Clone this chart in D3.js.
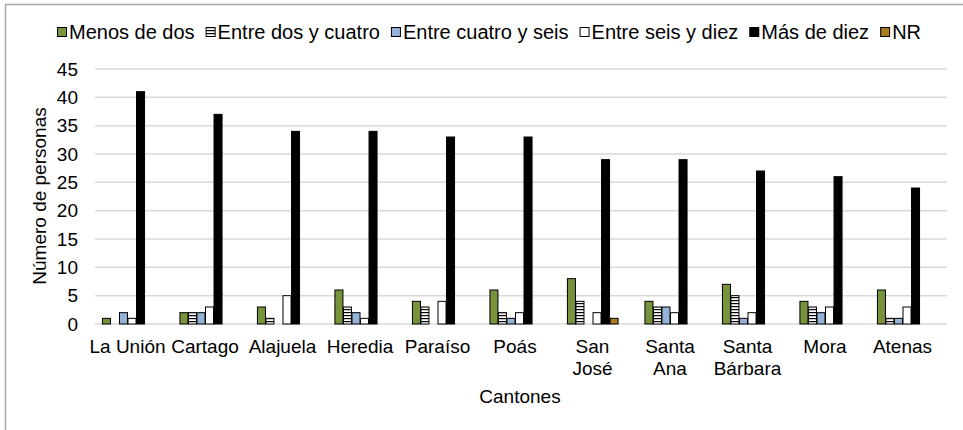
<!DOCTYPE html>
<html><head><meta charset="utf-8">
<script src="https://cdn.jsdelivr.net/npm/d3@7"></script>
<style>body{margin:0;background:#fff}svg{display:block}text{font-family:"Liberation Sans",Arial,sans-serif;fill:#000}</style>
</head><body><svg id="c" width="963" height="430"></svg>
<script>
const categories = [["La Unión"],["Cartago"],["Alajuela"],["Heredia"],["Paraíso"],["Poás"],["San","José"],["Santa","Ana"],["Santa","Bárbara"],["Mora"],["Atenas"]];
const seriesNames = ["Menos de dos","Entre dos y cuatro","Entre cuatro y seis","Entre seis y diez","Más de diez","NR"];
const menosDeDos      = [1,2,3,6,4,6,8,4,7,4,6];
const entreDosCuatro  = [0,2,1,3,3,2,4,3,5,3,1];
const entreCuatroSeis = [2,2,0,2,0,1,0,3,1,2,1];
const entreSeisDiez   = [1,3,5,1,4,2,2,2,2,3,3];
const masDeDiez       = [41,37,34,34,33,33,29,29,27,26,24];
const nr              = [0,0,0,0,0,0,1,0,0,0,0];
const yTicks = [0,5,10,15,20,25,30,35,40,45];
const yTitle = "Número de personas";
const xTitle = "Cantones";

const series = [menosDeDos,entreDosCuatro,entreCuatroSeis,entreSeisDiez,masDeDiez,nr];
const fills = ["#77933c","url(#stripes)","#95b3d7","#ffffff","#000000","#a67c1f"];
const FS = 19;

const svg = d3.select("#c");
const defs = svg.append("defs");
const pat = defs.append("pattern").attr("id","stripes").attr("patternUnits","userSpaceOnUse")
  .attr("width",6).attr("height",3);
pat.append("rect").attr("width",6).attr("height",3).attr("fill","#fff");
pat.append("rect").attr("y",0).attr("width",6).attr("height",1.2).attr("fill","#000");

// border
svg.append("path").attr("d","M5.5,430 V4.5 H963").attr("fill","none").attr("stroke","#a6a6a6").attr("stroke-width",1.5);

const x = d3.scaleBand().domain(d3.range(categories.length)).range([88.75,941.25]).paddingInner(0.34).paddingOuter(0.17);
const xs = d3.scaleBand().domain(d3.range(series.length)).range([0,x.bandwidth()]);
const y = d3.scaleLinear().domain([0,45]).range([324,69]);

// gridlines
svg.append("g").selectAll("line").data(yTicks).join("line")
  .attr("x1",95).attr("x2",947).attr("y1",d=>y(d)).attr("y2",d=>y(d))
  .attr("stroke","#d9d9d9").attr("stroke-width",1.5);

// y labels
const yAxis = d3.axisLeft(y).tickValues(yTicks).tickSize(0).tickPadding(0);
const gy = svg.append("g").attr("transform","translate(78,0)").call(yAxis);
gy.select(".domain").remove();
gy.selectAll("text").attr("font-size",FS).style("font-family","'Liberation Sans',Arial,sans-serif").attr("fill","#000");

// bars
const g = svg.append("g");
series.forEach((vals,si)=>{
  g.append("g").selectAll("rect").data(vals).join("rect")
    .attr("x",(d,i)=>x(i)+xs(si)+0.5)
    .attr("width",xs.bandwidth()-0.5)
    .attr("y",d=>y(d))
    .attr("height",d=>y(0)-y(d))
    .attr("fill",fills[si])
    .attr("stroke",d=>d>0?"#000":"none").attr("stroke-width",1);
});

// x labels
const gx = svg.append("g");
categories.forEach((lines,i)=>{
  const cx = x(i)+x.bandwidth()/2;
  const t = gx.append("text").attr("text-anchor","middle").attr("font-size",FS)
    .attr("x",cx).attr("y",353);
  lines.forEach((l,k)=>t.append("tspan").attr("x",cx).attr("dy",k===0?0:22).text(l));
});

svg.append("text").attr("text-anchor","middle").attr("font-size",FS)
  .attr("x",520).attr("y",403).text(xTitle);
svg.append("text").attr("text-anchor","middle").attr("font-size",FS)
  .attr("transform","translate(46,196) rotate(-90)").text(yTitle);

// legend (sequential layout, centred)
const lg = svg.append("g");
const items = seriesNames.map((n,i)=>{
  const gi = lg.append("g");
  gi.append("rect").attr("x",0.5).attr("y",27.5).attr("width",9).attr("height",9)
    .attr("fill",fills[i]).attr("stroke","#000").attr("stroke-width",1);
  const t = gi.append("text").attr("x",12).attr("y",39).attr("font-size",20).text(n);
  return {gi, w: 12 + t.node().getComputedTextLength()};
});
const gap = 11;
const total = d3.sum(items,d=>d.w) + gap*(items.length-1);
let cx = 489 - total/2;
items.forEach(it=>{ it.gi.attr("transform",`translate(${cx},0)`); cx += it.w + gap; });
</script></body></html>
